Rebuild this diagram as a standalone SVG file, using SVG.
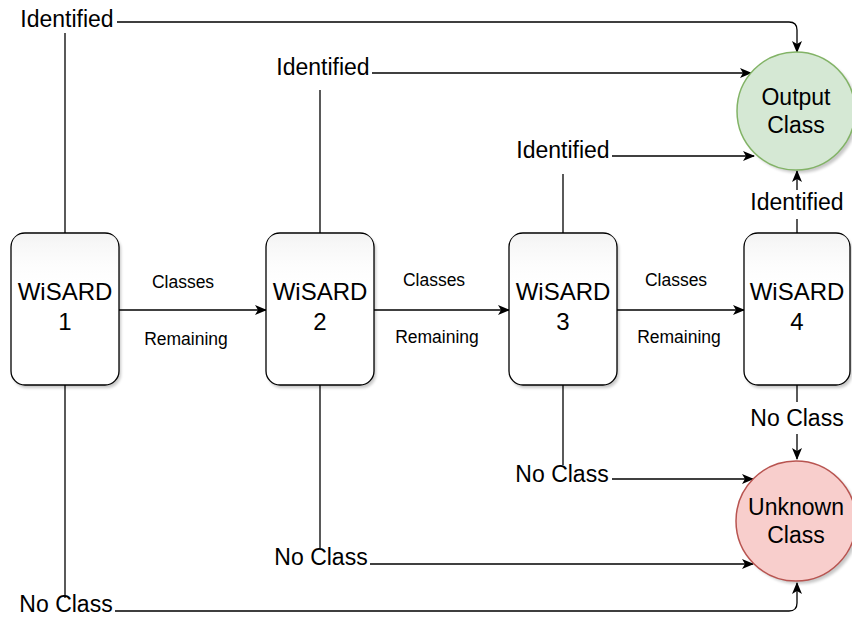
<svg xmlns="http://www.w3.org/2000/svg" width="852" height="619" viewBox="0 0 852 619">
  <style>
    text { font-family: "Liberation Sans", Arial, Helvetica, sans-serif; fill: #000; }
    .lbl { font-size: 23px; text-anchor: middle; }
    .sm { font-size: 17.5px; text-anchor: middle; }
    .node-t { font-size: 24px; text-anchor: middle; }
    .box { fill: #fff; stroke: #000; stroke-width: 1.3; }
    .glass { fill: url(#glassGrad); stroke: none; }
    .edge { fill: none; stroke: #000; stroke-width: 1.3; }
    .shadow { fill: #000; opacity: 0.22; filter: url(#blur); }
  </style>
  <defs>
    <marker id="arrow" viewBox="0 0 12 10" refX="11" refY="5" markerWidth="12" markerHeight="10" markerUnits="userSpaceOnUse" orient="auto">
      <path d="M0,0 L12,5 L0,10 L3,5 Z" fill="#000"/>
    </marker>
    <linearGradient id="glassGrad" x1="0" y1="0" x2="0" y2="1">
      <stop offset="0" stop-color="#f2f2f2" stop-opacity="0.9"/>
      <stop offset="1" stop-color="#ffffff" stop-opacity="0.1"/>
    </linearGradient>
    <filter id="blur" x="-20%" y="-20%" width="140%" height="140%">
      <feGaussianBlur stdDeviation="1.5"/>
    </filter>
  </defs>
  <rect width="852" height="619" fill="#fff"/>

  <g id="connectors">
    <!-- WiSARD 1 -->
    <path class="edge" d="M65,233 V33"/>
    <path class="edge" d="M117,22 H789 Q797,22 797,30 V52" marker-end="url(#arrow)"/>
    <path class="edge" d="M65,385 V598"/>
    <path class="edge" d="M115,611 H789 Q797,611 797,603 V583" marker-end="url(#arrow)"/>
    <path class="edge" d="M119,310 H266" marker-end="url(#arrow)"/>
    <!-- WiSARD 2 -->
    <path class="edge" d="M320,233 V90"/>
    <path class="edge" d="M372,73 H751" marker-end="url(#arrow)"/>
    <path class="edge" d="M320,385 V548"/>
    <path class="edge" d="M370,564 H753" marker-end="url(#arrow)"/>
    <path class="edge" d="M374,310 H509" marker-end="url(#arrow)"/>
    <!-- WiSARD 3 -->
    <path class="edge" d="M563,233 V174"/>
    <path class="edge" d="M612,156 H754" marker-end="url(#arrow)"/>
    <path class="edge" d="M563,385 V465"/>
    <path class="edge" d="M612,479 H753" marker-end="url(#arrow)"/>
    <path class="edge" d="M617,310 H744" marker-end="url(#arrow)"/>
    <!-- WiSARD 4 -->
    <path class="edge" d="M797,233 V219"/>
    <path class="edge" d="M797,190 V171" marker-end="url(#arrow)"/>
    <path class="edge" d="M797,385 V402"/>
    <path class="edge" d="M797,434 V459" marker-end="url(#arrow)"/>

    <!-- edge labels -->
    <text class="lbl" x="67" y="27">Identified</text>
    <text class="lbl" x="66" y="612">No Class</text>
    <text class="lbl" x="323" y="75">Identified</text>
    <text class="lbl" x="321" y="565">No Class</text>
    <text class="lbl" x="563" y="158">Identified</text>
    <text class="lbl" x="562" y="482">No Class</text>
    <text class="lbl" x="797" y="210">Identified</text>
    <text class="lbl" x="797" y="426">No Class</text>
    <text class="sm" x="183" y="288">Classes</text>
    <text class="sm" x="186" y="345">Remaining</text>
    <text class="sm" x="434" y="286">Classes</text>
    <text class="sm" x="437" y="343">Remaining</text>
    <text class="sm" x="676" y="286">Classes</text>
    <text class="sm" x="679" y="343">Remaining</text>
  </g>

  <g id="wisard1">
    <rect class="shadow" x="13" y="236" width="108" height="152" rx="14"/>
    <rect class="box" x="11" y="233" width="108" height="152" rx="14"/>
    <path class="glass" d="M12,280 V247 Q12,234 25,234 H105 Q118,234 118,247 V280 Q65,300 12,280 Z"/>
    <text class="node-t" x="65" y="300">WiSARD</text>
    <text class="node-t" x="65" y="330">1</text>
  </g>
  <g id="wisard2">
    <rect class="shadow" x="268" y="236" width="108" height="152" rx="14"/>
    <rect class="box" x="266" y="233" width="108" height="152" rx="14"/>
    <path class="glass" d="M267,280 V247 Q267,234 280,234 H360 Q373,234 373,247 V280 Q320,300 267,280 Z"/>
    <text class="node-t" x="320" y="300">WiSARD</text>
    <text class="node-t" x="320" y="330">2</text>
  </g>
  <g id="wisard3">
    <rect class="shadow" x="511" y="236" width="108" height="152" rx="14"/>
    <rect class="box" x="509" y="233" width="108" height="152" rx="14"/>
    <path class="glass" d="M510,280 V247 Q510,234 523,234 H603 Q616,234 616,247 V280 Q563,300 510,280 Z"/>
    <text class="node-t" x="563" y="300">WiSARD</text>
    <text class="node-t" x="563" y="330">3</text>
  </g>
  <g id="wisard4">
    <rect class="shadow" x="746" y="236" width="106" height="152" rx="14"/>
    <rect class="box" x="744" y="233" width="106" height="152" rx="14"/>
    <path class="glass" d="M745,280 V247 Q745,234 758,234 H836 Q849,234 849,247 V280 Q797,300 745,280 Z"/>
    <text class="node-t" x="797" y="300">WiSARD</text>
    <text class="node-t" x="797" y="330">4</text>
  </g>

  <g id="output-class">
    <circle class="shadow" cx="799" cy="114" r="59"/>
    <circle cx="796" cy="111" r="59" fill="#d5e8d4" stroke="#82b366" stroke-width="1.5"/>
    <text class="lbl" x="796" y="105">Output</text>
    <text class="lbl" x="796" y="133">Class</text>
  </g>
  <g id="unknown-class">
    <circle class="shadow" cx="799" cy="524" r="60"/>
    <circle cx="796" cy="521" r="60" fill="#f8cecc" stroke="#b85450" stroke-width="1.5"/>
    <text class="lbl" x="796" y="515">Unknown</text>
    <text class="lbl" x="796" y="543">Class</text>
  </g>
</svg>
